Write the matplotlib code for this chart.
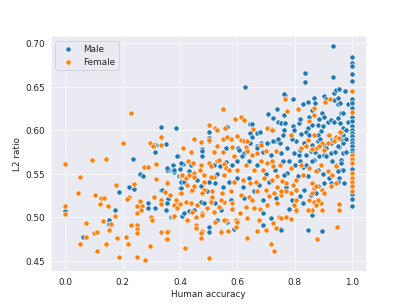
import matplotlib
matplotlib.use("Agg")
import matplotlib.pyplot as plt
import seaborn as sns
import numpy as np

# (human accuracy, L2 ratio) pairs, grouped by area
male_left = [
    (0.0, 0.507), (0.062, 0.478), (0.151, 0.497), (0.151, 0.492), (0.175, 0.508),
    (0.189, 0.529), (0.224, 0.535), (0.24, 0.533), (0.235, 0.5675), (0.262, 0.550),
    (0.27, 0.5476), (0.287, 0.5165), (0.287, 0.5103), (0.312, 0.5103), (0.334, 0.532),
    (0.358, 0.521), (0.35, 0.5088), (0.37, 0.5007), (0.408, 0.502), (0.43, 0.5076),
    (0.40, 0.5333), (0.405, 0.541), (0.415, 0.541), (0.401, 0.556), (0.393, 0.570),
    (0.377, 0.5606), (0.361, 0.554), (0.354, 0.5548), (0.381, 0.552), (0.411, 0.5617),
    (0.317, 0.5836), (0.31, 0.583), (0.35, 0.584), (0.313, 0.575), (0.334, 0.6036),
    (0.386, 0.603), (0.39, 0.571), (0.437, 0.5606), (0.402, 0.5626), (0.356, 0.5568),
    (0.379, 0.5548), (0.431, 0.553), (0.396, 0.5471), (0.338, 0.532), (0.402, 0.5337),
    (0.356, 0.5165), (0.414, 0.505), (0.449, 0.5088),
]
male_mid = [
    (0.627, 0.6497), (0.501, 0.598), (0.565, 0.604), (0.644, 0.6075), (0.653, 0.6075),
    (0.644, 0.5967), (0.668, 0.5967), (0.68, 0.598), (0.707, 0.619), (0.724, 0.6144),
    (0.74, 0.624), (0.742, 0.6093), (0.72, 0.602), (0.501, 0.591), (0.621, 0.589),
    (0.644, 0.586), (0.668, 0.582), (0.707, 0.585), (0.731, 0.588), (0.75, 0.586),
    (0.501, 0.5875), (0.562, 0.580), (0.604, 0.580), (0.653, 0.5925), (0.682, 0.5856),
    (0.705, 0.5856), (0.726, 0.5882), (0.742, 0.5902), (0.476, 0.5787), (0.67, 0.580),
    (0.723, 0.601), (0.754, 0.608), (0.476, 0.576), (0.476, 0.571), (0.52, 0.5605),
    (0.54, 0.559), (0.56, 0.564), (0.606, 0.578), (0.623, 0.574), (0.618, 0.570),
    (0.717, 0.572), (0.752, 0.574), (0.46, 0.543), (0.501, 0.541), (0.524, 0.5395),
    (0.571, 0.541), (0.60, 0.545), (0.641, 0.545), (0.676, 0.5375), (0.711, 0.541),
    (0.472, 0.518), (0.507, 0.520), (0.577, 0.520), (0.623, 0.522), (0.688, 0.520),
    (0.734, 0.522), (0.53, 0.497), (0.60, 0.497), (0.688, 0.505), (0.717, 0.499),
    (0.588, 0.4865), (0.688, 0.4915), (0.472, 0.5356), (0.495, 0.530), (0.484, 0.5165),
    (0.524, 0.5165), (0.542, 0.5088), (0.565, 0.4953), (0.501, 0.4895), (0.501, 0.4838),
    (0.749, 0.4865), (0.58, 0.56), (0.64, 0.565), (0.67, 0.56), (0.70, 0.55),
    (0.73, 0.555), (0.62, 0.535), (0.66, 0.53), (0.55, 0.535), (0.53, 0.55),
    (0.60, 0.565), (0.69, 0.575),
]
male_right = [
    (0.935, 0.697), (0.836, 0.6662), (0.836, 0.6554), (0.935, 0.6616), (0.766, 0.641),
    (0.763, 0.642), (0.793, 0.636), (0.828, 0.6305), (0.845, 0.6328), (0.866, 0.6375),
    (0.871, 0.6317), (0.903, 0.640), (0.909, 0.6355), (0.938, 0.643), (0.944, 0.646),
    (0.956, 0.648), (0.936, 0.6347), (0.952, 0.6375), (0.95, 0.63), (0.959, 0.6317),
    (0.962, 0.620), (0.859, 0.623), (0.763, 0.618), (0.766, 0.6087), (0.793, 0.6055),
    (0.814, 0.6087), (0.82, 0.6125), (0.845, 0.6029), (0.862, 0.6067), (0.88, 0.6067),
    (0.886, 0.6125), (0.897, 0.620), (0.903, 0.6158), (0.915, 0.61), (0.927, 0.612),
    (0.938, 0.61), (0.95, 0.614), (0.959, 0.6087), (0.967, 0.6029), (0.763, 0.600),
    (0.798, 0.600), (0.822, 0.5963), (0.839, 0.5978), (0.892, 0.599), (0.915, 0.5952),
    (0.932, 0.5894), (0.967, 0.5952), (0.804, 0.5875), (0.833, 0.5856), (0.862, 0.5836),
    (0.88, 0.5875), (0.903, 0.5836), (0.927, 0.5856), (0.956, 0.581), (0.798, 0.574),
    (0.816, 0.572), (0.839, 0.572), (0.857, 0.576), (0.868, 0.5664), (0.886, 0.570),
    (0.903, 0.572), (0.927, 0.574), (0.95, 0.5817), (0.944, 0.5606), (0.962, 0.5664),
    (0.962, 0.5548), (0.973, 0.540), (0.956, 0.5453), (0.927, 0.5395), (0.903, 0.5395),
    (0.88, 0.5356), (0.874, 0.528), (0.857, 0.526), (0.833, 0.532), (0.845, 0.5471),
    (0.81, 0.5471), (0.775, 0.551), (0.763, 0.549), (0.845, 0.4857), (0.897, 0.4846),
    (0.752, 0.4857), (0.86, 0.503), (0.804, 0.507), (0.828, 0.5165), (0.95, 0.541),
    (0.95, 0.553), (0.962, 0.5626), (0.967, 0.574), (0.78, 0.565), (0.80, 0.56),
    (0.83, 0.558), (0.87, 0.575), (0.91, 0.58), (0.94, 0.59), (0.97, 0.585),
    (0.97, 0.62), (0.98, 0.60), (0.98, 0.575), (0.97, 0.555), (0.985, 0.63),
    (0.96, 0.598), (0.90, 0.605), (0.88, 0.595), (0.85, 0.615), (0.82, 0.578),
    (0.79, 0.59), (0.775, 0.58), (0.76, 0.565), (0.76, 0.595), (0.85, 0.595),
    (0.89, 0.59), (0.91, 0.57), (0.93, 0.565), (0.86, 0.565), (0.84, 0.56),
    (0.82, 0.565), (0.88, 0.555), (0.90, 0.55), (0.92, 0.545), (0.94, 0.575),
    (0.96, 0.59), (0.98, 0.59), (0.985, 0.61), (0.975, 0.645), (0.77, 0.535),
    (0.79, 0.52), (0.82, 0.525), (0.78, 0.51),
]
# points stacked at accuracy = 1.0
male_at_one = [0.6847, 0.6778, 0.6739, 0.6651, 0.6566, 0.6355, 0.6317, 0.6259, 0.6156,
               0.6113, 0.6047, 0.601, 0.597, 0.593, 0.589, 0.586, 0.582, 0.578, 0.5745,
               0.5556, 0.5272, 0.521, 0.5134]

female_left = [
    (0.228, 0.6194), (0.202, 0.586), (0.0, 0.561), (0.095, 0.566), (0.143, 0.567),
    (0.052, 0.546), (0.043, 0.528), (0.0, 0.5134), (0.0, 0.5045), (0.104, 0.526),
    (0.12, 0.515), (0.126, 0.5226), (0.134, 0.5226), (0.15, 0.5134), (0.177, 0.5376),
    (0.175, 0.502), (0.132, 0.496), (0.071, 0.494), (0.161, 0.4926), (0.072, 0.478),
    (0.100, 0.4819), (0.111, 0.4834), (0.151, 0.4854), (0.052, 0.470), (0.143, 0.470),
    (0.111, 0.462), (0.182, 0.476), (0.186, 0.455), (0.213, 0.4777), (0.219, 0.4692),
    (0.25, 0.4543), (0.277, 0.4508), (0.295, 0.467), (0.228, 0.4915), (0.25, 0.4918),
    (0.25, 0.4869), (0.25, 0.4822), (0.221, 0.5234), (0.217, 0.521), (0.239, 0.5387),
    (0.26, 0.519), (0.25, 0.5137), (0.25, 0.5056), (0.268, 0.5137), (0.265, 0.5088),
    (0.309, 0.5234), (0.30, 0.5004), (0.303, 0.4972), (0.334, 0.520), (0.334, 0.5157),
    (0.318, 0.5445), (0.347, 0.5287), (0.356, 0.5407), (0.334, 0.483), (0.358, 0.485),
    (0.352, 0.475), (0.375, 0.5007), (0.429, 0.4966), (0.39, 0.5157), (0.40, 0.516),
    (0.40, 0.528), (0.402, 0.548), (0.429, 0.5644), (0.317, 0.561), (0.273, 0.558),
    (0.287, 0.558), (0.295, 0.586), (0.334, 0.592), (0.334, 0.583), (0.306, 0.582),
    (0.356, 0.540), (0.408, 0.549), (0.42, 0.545), (0.431, 0.549), (0.425, 0.5376),
    (0.437, 0.53), (0.402, 0.528), (0.367, 0.526), (0.385, 0.520), (0.42, 0.518),
    (0.379, 0.5145), (0.39, 0.5107), (0.379, 0.5018), (0.425, 0.4972), (0.417, 0.4646),
    (0.356, 0.4753), (0.356, 0.4838), (0.44, 0.575), (0.41, 0.58), (0.45, 0.59),
]
female_mid = [
    (0.551, 0.624), (0.501, 0.606), (0.521, 0.6025), (0.528, 0.601), (0.557, 0.603),
    (0.592, 0.613), (0.613, 0.6156), (0.622, 0.6117), (0.655, 0.602), (0.702, 0.6025),
    (0.72, 0.600), (0.472, 0.587), (0.501, 0.5894), (0.551, 0.5902), (0.577, 0.5902),
    (0.60, 0.594), (0.612, 0.5894), (0.623, 0.5882), (0.563, 0.5925), (0.633, 0.588),
    (0.53, 0.5825), (0.58, 0.581), (0.629, 0.581), (0.682, 0.5836), (0.447, 0.563),
    (0.503, 0.563), (0.53, 0.5645), (0.553, 0.561), (0.559, 0.557), (0.635, 0.576),
    (0.653, 0.572), (0.67, 0.574), (0.699, 0.576), (0.734, 0.576), (0.588, 0.570),
    (0.682, 0.5644), (0.705, 0.5626), (0.723, 0.5587), (0.449, 0.551), (0.484, 0.549),
    (0.519, 0.547), (0.553, 0.549), (0.588, 0.541), (0.62, 0.543), (0.643, 0.5395),
    (0.664, 0.541), (0.692, 0.545), (0.72, 0.543), (0.74, 0.5475),
    (0.443, 0.532), (0.484, 0.532), (0.513, 0.530), (0.548, 0.528), (0.577, 0.530),
    (0.612, 0.526), (0.641, 0.524), (0.67, 0.530), (0.699, 0.532), (0.728, 0.528),
    (0.752, 0.526), (0.437, 0.5165), (0.46, 0.5145), (0.495, 0.5107), (0.536, 0.5125),
    (0.553, 0.5183), (0.583, 0.5165), (0.629, 0.5125), (0.658, 0.5107), (0.705, 0.5145),
    (0.740, 0.5165), (0.455, 0.501), (0.478, 0.505), (0.524, 0.495), (0.559, 0.497),
    (0.594, 0.4965), (0.635, 0.499), (0.676, 0.497), (0.723, 0.4935), (0.746, 0.501),
    (0.478, 0.484), (0.542, 0.484), (0.594, 0.4895), (0.67, 0.484), (0.70, 0.4857),
    (0.734, 0.4877), (0.501, 0.4538), (0.474, 0.482), (0.474, 0.476), (0.455, 0.4915),
    (0.455, 0.4877), (0.544, 0.4838), (0.569, 0.485), (0.633, 0.476), (0.717, 0.4692),
    (0.728, 0.4619), (0.472, 0.5606), (0.507, 0.5587), (0.536, 0.5664), (0.449, 0.547),
    (0.507, 0.547), (0.484, 0.541), (0.449, 0.5356), (0.478, 0.528), (0.513, 0.524),
    (0.507, 0.518), (0.542, 0.520), (0.443, 0.5068), (0.478, 0.503), (0.519, 0.5068),
    (0.553, 0.4972), (0.60, 0.4953), (0.57, 0.555), (0.60, 0.555), (0.63, 0.56),
    (0.66, 0.555), (0.69, 0.555), (0.72, 0.565), (0.75, 0.56), (0.58, 0.51),
    (0.61, 0.505), (0.65, 0.52), (0.68, 0.51), (0.71, 0.525), (0.74, 0.535),
    (0.47, 0.555), (0.52, 0.575), (0.55, 0.575),
]
female_right = [
    (0.772, 0.6224), (0.766, 0.636), (0.773, 0.622), (0.812, 0.6247), (0.907, 0.6324),
    (0.924, 0.636), (0.868, 0.626), (0.849, 0.6113), (0.868, 0.618), (0.959, 0.5978),
    (0.944, 0.5925), (0.956, 0.5914), (0.789, 0.5952), (0.868, 0.5952), (0.921, 0.5952),
    (0.845, 0.589), (0.874, 0.580), (0.897, 0.5856), (0.822, 0.58), (0.839, 0.5817),
    (0.862, 0.579), (0.886, 0.5817), (0.903, 0.578), (0.915, 0.5856), (0.938, 0.5875),
    (0.892, 0.5606), (0.915, 0.553), (0.932, 0.549), (0.874, 0.553), (0.851, 0.5568),
    (0.822, 0.5606), (0.787, 0.5568), (0.828, 0.549), (0.804, 0.5433), (0.793, 0.5376),
    (0.769, 0.5395), (0.757, 0.5414), (0.862, 0.5395), (0.868, 0.5337), (0.897, 0.532),
    (0.892, 0.5165), (0.804, 0.5088), (0.798, 0.5145), (0.868, 0.5183), (0.88, 0.520),
    (0.878, 0.4753), (0.948, 0.489), (0.752, 0.499), (0.769, 0.5003), (0.787, 0.4984),
    (0.86, 0.508), (0.956, 0.5157), (0.956, 0.5088), (0.804, 0.520), (0.845, 0.5088),
    (0.851, 0.520), (0.874, 0.5145), (0.897, 0.5088), (0.752, 0.530), (0.769, 0.530),
    (0.787, 0.528), (0.804, 0.532), (0.862, 0.528), (0.874, 0.5356), (0.903, 0.528),
    (0.927, 0.5356), (0.944, 0.5587), (0.944, 0.5395),
]
female_at_one = [0.645, 0.6209, 0.5721, 0.5672, 0.562, 0.551, 0.5453, 0.5402, 0.5356, 0.530]

male = male_left + male_mid + male_right + [(1.0, v) for v in male_at_one]
female = female_left + female_mid + female_right + [(1.0, v) for v in female_at_one]
male_x, male_y = np.array(male).T
female_x, female_y = np.array(female).T

sns.set_style("darkgrid")
fig, ax = plt.subplots(figsize=(6.4, 4.8), dpi=63.6)

ax.scatter(male_x, male_y, s=36, color="#1f77b4", edgecolor="white", linewidth=0.75, label="Male")
ax.scatter(female_x, female_y, s=36, color="#ff7f0e", edgecolor="white", linewidth=0.75, label="Female")

ax.set_xlim(-0.05, 1.05)
ax.set_ylim(0.438, 0.708)
ax.set_xticks([0.0, 0.2, 0.4, 0.6, 0.8, 1.0])
ax.set_yticks([0.45, 0.50, 0.55, 0.60, 0.65, 0.70])
ax.set_xlabel("Human accuracy")
ax.set_ylabel("L2 ratio")
ax.legend(loc="upper left")

fig.savefig("out.png", dpi=63.6)
